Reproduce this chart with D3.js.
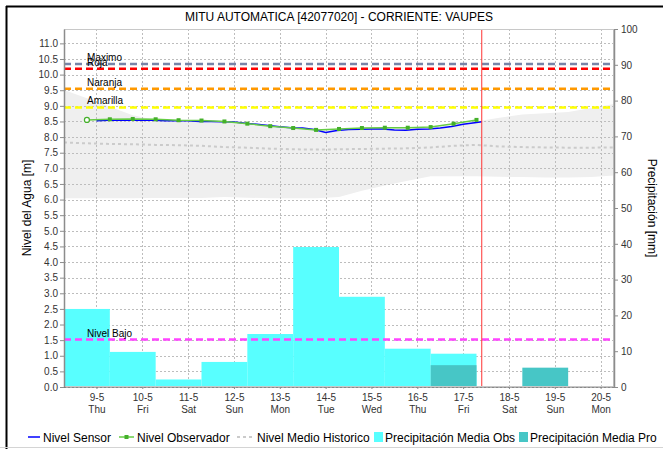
<!DOCTYPE html>
<html>
<head>
<meta charset="utf-8">
<script src="https://cdn.jsdelivr.net/npm/d3@7"></script>
<style>
  body { margin: 0; background: #fff; }
  text { font-family: 'Liberation Sans', Arial, sans-serif; }
</style>
</head>
<body>
<svg id="chart" width="663" height="449"></svg>
<script>
const parse = d3.timeParse('%Y-%m-%d %H:%M');
const t = s => parse('2019-05-' + s);

// precipitation, mm per day (7:00 -> 7:00)
const precipObsDays = ['09', '10', '11', '12', '13', '14', '15', '16', '17'];
const precipObs = [21.8, 9.8, 2.1, 7.0, 14.8, 39.1, 25.2, 10.7, 9.3];
const precipProDays = ['17', '19'];
const precipPro = [6.1, 5.4];

// water level, m
const sensorTimes = [
  '09 00:00', '09 06:00', '09 12:00', '09 18:00', '10 00:00', '10 06:00', '10 12:00', '10 18:00',
  '11 00:00', '11 06:00', '11 12:00', '11 18:00', '12 00:00', '12 06:00', '12 12:00', '12 18:00',
  '13 00:00', '13 06:00', '13 12:00', '13 18:00', '14 00:00', '14 06:00', '14 12:00', '14 18:00',
  '15 00:00', '15 06:00', '15 12:00', '15 18:00', '16 00:00', '16 06:00', '16 12:00', '16 18:00',
  '17 00:00', '17 06:00', '17 09:45'
];
const sensorLevels = [
  8.52, 8.54, 8.54, 8.54, 8.54, 8.54, 8.52, 8.52,
  8.52, 8.50, 8.50, 8.49, 8.48, 8.44, 8.41, 8.37,
  8.33, 8.30, 8.29, 8.24, 8.15, 8.21, 8.245, 8.25,
  8.255, 8.255, 8.23, 8.22, 8.25, 8.26, 8.29, 8.34,
  8.41, 8.46, 8.49
];

const observerTimes = [
  '08 19:00', '09 07:00', '09 19:00', '10 07:00', '10 19:00', '11 07:00',
  '11 19:00', '12 07:00', '12 19:00', '13 07:00', '13 19:00', '14 07:00',
  '14 19:00', '15 07:00', '15 19:00', '16 07:00', '16 19:00', '17 07:00'
];
const observerLevels = [
  8.55, 8.57, 8.58, 8.57, 8.54, 8.53,
  8.50, 8.43, 8.35, 8.29, 8.23, 8.26,
  8.29, 8.30, 8.30, 8.32, 8.43, 8.55
];

const histTimes = [
  '08 07:00', '08 19:00', '09 07:00', '09 19:00', '10 07:00', '10 19:00', '11 07:00',
  '11 19:00', '12 07:00', '12 19:00', '13 07:00', '13 19:00', '14 07:00', '14 19:00',
  '15 07:00', '15 19:00', '16 07:00', '16 19:00', '17 07:00', '17 19:00', '18 07:00',
  '18 19:00', '19 07:00', '19 19:00', '20 07:00'
];
const histUpper = [
  9.51, 9.24, 8.97, 8.70, 8.55, 8.53, 8.52,
  8.49, 8.43, 8.34, 8.28, 8.22, 8.24, 8.27,
  8.28, 8.28, 8.31, 8.40, 8.50, 8.62, 8.72,
  8.76, 8.80, 8.93, 9.06
];
const histMean = [
  7.83, 7.80, 7.78, 7.77, 7.75, 7.74, 7.72,
  7.68, 7.66, 7.63, 7.61, 7.60, 7.61, 7.62,
  7.63, 7.64, 7.67, 7.72, 7.75, 7.70, 7.68,
  7.67, 7.66, 7.66, 7.67
];
const histLower = [
  6.04, 6.04, 6.04, 6.04, 6.05, 6.05, 6.05,
  6.08, 6.06, 6.04, 6.04, 6.04, 6.08, 6.28,
  6.45, 6.60, 6.75, 6.75, 6.75, 6.73, 6.72,
  6.71, 6.71, 6.72, 6.77
];

const thresholdNames = ['Maximo', 'Roja', 'Naranja', 'Amarilla', 'Nivel Bajo'];
const thresholdLevels = [10.34, 10.19, 9.55, 8.95, 1.52];
const thresholdColours = ['#7784a8', '#ff0000', '#ff9900', '#ffff00', '#ff44ff'];

const nowTime = '17 09:45';

const title = 'MITU AUTOMATICA [42077020] - CORRIENTE: VAUPES';
const legendNames = [
  'Nivel Sensor', 'Nivel Observador', 'Nivel Medio Historico',
  'Precipitación Media Obs', 'Precipitación Media Pro'
];

const plotLeft = 64;
const plotRight = 614;
const plotTop = 29;
const plotBottom = 387;

const svg = d3.select('#chart');

const x = d3
  .scaleTime()
  .domain([t('08 07:00'), t('20 07:00')])
  .range([plotLeft, plotRight]);
const yLevel = d3
  .scaleLinear()
  .domain([0, 11.46])
  .range([plotBottom, plotTop]);
const yPrecip = d3
  .scaleLinear()
  .domain([0, 100])
  .range([plotBottom, plotTop]);

const dayTicks = d3.timeDay.range(t('09 00:00'), t('21 00:00'));
const levelTicks = d3.range(0, 11.01, 0.5);

// frame
svg.append('line').attr('x1', 6.5).attr('x2', 6.5).attr('y1', 6).attr('y2', 449)
  .attr('stroke', '#000').attr('stroke-width', 2);
svg.append('line').attr('x1', 6).attr('x2', 663).attr('y1', 6.5).attr('y2', 6.5)
  .attr('stroke', '#000').attr('stroke-width', 2);
svg.append('line').attr('x1', 0).attr('x2', 663).attr('y1', 447.5).attr('y2', 447.5)
  .attr('stroke', '#d4d4d4');

svg
  .append('text')
  .text(title)
  .attr('x', (plotLeft + plotRight) / 2)
  .attr('y', 21)
  .attr('text-anchor', 'middle')
  .style('font-size', '12px');

// historical band
const band = d3
  .area()
  .x((d, i) => x(t(histTimes[i])))
  .y0((d, i) => yLevel(histLower[i]))
  .y1((d, i) => yLevel(histUpper[i]));
svg.append('path').datum(histTimes).attr('d', band).attr('fill', '#efefef');

// grid
const grid = svg.append('g');
grid
  .selectAll('.hg')
  .data(levelTicks)
  .enter()
  .append('line')
  .attr('x1', plotLeft)
  .attr('x2', plotRight)
  .attr('y1', d => Math.round(yLevel(d)) + 0.5)
  .attr('y2', d => Math.round(yLevel(d)) + 0.5);
grid
  .selectAll('.vg')
  .data(dayTicks)
  .enter()
  .append('line')
  .attr('x1', d => Math.round(x(d)) + 0.5)
  .attr('x2', d => Math.round(x(d)) + 0.5)
  .attr('y1', plotTop)
  .attr('y2', plotBottom);
grid.selectAll('line').attr('stroke', '#bdbdbd').attr('stroke-dasharray', '2,2');

// precipitation bars
const dayStart = d => d3.timeHour.offset(t(d + ' 07:00'), -24);
svg
  .append('g')
  .selectAll('rect')
  .data(precipObsDays)
  .enter()
  .append('rect')
  .attr('x', d => x(dayStart(d)))
  .attr('width', d => x(t(d + ' 07:00')) - x(dayStart(d)))
  .attr('y', (d, i) => yPrecip(precipObs[i]))
  .attr('height', (d, i) => plotBottom - yPrecip(precipObs[i]))
  .attr('fill', '#58ffff');
svg
  .append('g')
  .selectAll('rect')
  .data(precipProDays)
  .enter()
  .append('rect')
  .attr('x', d => x(dayStart(d)))
  .attr('width', d => x(t(d + ' 07:00')) - x(dayStart(d)))
  .attr('y', (d, i) => yPrecip(precipPro[i]))
  .attr('height', (d, i) => plotBottom - yPrecip(precipPro[i]))
  .attr('fill', '#47c6c6');

// historical mean
svg
  .append('path')
  .datum(histTimes)
  .attr(
    'd',
    d3
      .line()
      .x((d, i) => x(t(histTimes[i])))
      .y((d, i) => yLevel(histMean[i]))
  )
  .attr('fill', 'none')
  .attr('stroke', '#cbcbcb')
  .attr('stroke-width', 2)
  .attr('stroke-dasharray', '3,3');

// thresholds
const thr = svg
  .append('g')
  .selectAll('g')
  .data(thresholdNames)
  .enter()
  .append('g');
thr
  .append('line')
  .attr('x1', plotLeft)
  .attr('x2', plotRight)
  .attr('y1', (d, i) => yLevel(thresholdLevels[i]))
  .attr('y2', (d, i) => yLevel(thresholdLevels[i]))
  .attr('stroke', (d, i) => thresholdColours[i])
  .attr('stroke-width', 2.5)
  .attr('stroke-dasharray', '7,4');
thr
  .append('text')
  .text(d => d)
  .attr('x', plotLeft + 23)
  .attr('y', (d, i) => yLevel(thresholdLevels[i]) - 3)
  .style('font-size', '10px');

// sensor
svg
  .append('path')
  .datum(sensorTimes)
  .attr(
    'd',
    d3
      .line()
      .x((d, i) => x(t(sensorTimes[i])))
      .y((d, i) => yLevel(sensorLevels[i]))
  )
  .attr('fill', 'none')
  .attr('stroke', '#0000ff')
  .attr('stroke-width', 1.5);

// observer
svg
  .append('path')
  .datum(observerTimes)
  .attr(
    'd',
    d3
      .line()
      .x((d, i) => x(t(observerTimes[i])))
      .y((d, i) => yLevel(observerLevels[i]))
  )
  .attr('fill', 'none')
  .attr('stroke', '#66cc44')
  .attr('stroke-width', 1.5);
svg
  .append('g')
  .selectAll('rect')
  .data(observerTimes.slice(1))
  .enter()
  .append('rect')
  .attr('x', d => x(t(d)) - 2)
  .attr('y', (d, i) => yLevel(observerLevels[i + 1]) - 2)
  .attr('width', 4)
  .attr('height', 4)
  .attr('fill', '#44b02a');
svg
  .append('circle')
  .attr('cx', x(t(observerTimes[0])))
  .attr('cy', yLevel(observerLevels[0]))
  .attr('r', 2.5)
  .attr('fill', '#fff')
  .attr('stroke', '#44b02a')
  .attr('stroke-width', 1.2);

// now line
svg
  .append('line')
  .attr('x1', x(t(nowTime)))
  .attr('x2', x(t(nowTime)))
  .attr('y1', plotTop)
  .attr('y2', plotBottom)
  .attr('stroke', '#ff3333')
  .attr('stroke-width', 1);

// plot outline
svg
  .append('rect')
  .attr('x', plotLeft + 0.5)
  .attr('y', plotTop + 0.5)
  .attr('width', plotRight - plotLeft - 1)
  .attr('height', plotBottom - plotTop - 1)
  .attr('fill', 'none')
  .attr('stroke', '#c8c8c8');

// axes
const styleAxis = g => {
  g.select('.domain').attr('stroke', '#8c8c8c').attr('stroke-width', 1.5);
  g.selectAll('.tick line').attr('stroke', '#8c8c8c');
  g.selectAll('.tick text').attr('fill', '#333').style('font-size', '10px')
    .style('font-family', "'Liberation Sans', Arial, sans-serif");
};

svg
  .append('g')
  .attr('transform', `translate(${plotLeft},0)`)
  .call(
    d3
      .axisLeft(yLevel)
      .tickValues(levelTicks)
      .tickFormat(d3.format('.1f'))
      .tickSize(4)
      .tickPadding(2)
      .tickSizeOuter(0)
  )
  .call(styleAxis);

svg
  .append('g')
  .attr('transform', `translate(${plotRight},0)`)
  .call(
    d3
      .axisRight(yPrecip)
      .tickValues(d3.range(0, 101, 10))
      .tickSize(4)
      .tickPadding(3)
      .tickSizeOuter(0)
  )
  .call(styleAxis);

const xAxis = svg
  .append('g')
  .attr('transform', `translate(0,${plotBottom})`)
  .call(
    d3
      .axisBottom(x)
      .tickValues(dayTicks)
      .tickSize(2)
      .tickPadding(5)
      .tickSizeOuter(0)
  )
  .call(styleAxis);
xAxis.select('.domain').attr('stroke-dasharray', '1,1').attr('stroke', '#555').attr('stroke-width', 1);
const fmtDay = d3.timeFormat('%-d-%-m');
const fmtWeek = d3.timeFormat('%a');
xAxis.selectAll('.tick text').each(function(d) {
  const el = d3.select(this).text(null).attr('dy', null);
  el.append('tspan').attr('x', 0).attr('dy', '0.71em').text(fmtDay(d));
  el.append('tspan').attr('x', 0).attr('dy', '1.2em').text(fmtWeek(d));
});

svg
  .append('text')
  .text('Nivel del Agua [m]')
  .attr('transform', `translate(31,${(plotTop + plotBottom) / 2}) rotate(-90)`)
  .attr('text-anchor', 'middle')
  .style('font-size', '12px');

svg
  .append('text')
  .text('Precipitación [mm]')
  .attr('transform', `translate(648,${(plotTop + plotBottom) / 2}) rotate(90)`)
  .attr('text-anchor', 'middle')
  .style('font-size', '12px');

// legend
const legend = svg.append('g').attr('transform', 'translate(0,437)');
const legendX = [28, 119, 237, 374, 519];
legend.append('line').attr('x1', legendX[0]).attr('x2', legendX[0] + 12)
  .attr('stroke', '#0000ff').attr('stroke-width', 1.5);
legend.append('line').attr('x1', legendX[1]).attr('x2', legendX[1] + 15)
  .attr('stroke', '#66cc44').attr('stroke-width', 1.5);
legend.append('rect').attr('x', legendX[1] + 5.5).attr('y', -2).attr('width', 4).attr('height', 4)
  .attr('fill', '#44b02a');
legend.append('line').attr('x1', legendX[2]).attr('x2', legendX[2] + 16)
  .attr('stroke', '#cbcbcb').attr('stroke-width', 2).attr('stroke-dasharray', '3,3');
legend.append('rect').attr('x', legendX[3]).attr('y', -5).attr('width', 9).attr('height', 10)
  .attr('fill', '#58ffff');
legend.append('rect').attr('x', legendX[4]).attr('y', -5).attr('width', 9).attr('height', 10)
  .attr('fill', '#47c6c6');
const textOffsets = [15, 18, 20, 11, 11];
legend
  .selectAll('text')
  .data(legendNames)
  .enter()
  .append('text')
  .text(d => d)
  .attr('x', (d, i) => legendX[i] + textOffsets[i])
  .attr('y', 4.5)
  .style('font-size', '12px');
</script>
</body>
</html>
